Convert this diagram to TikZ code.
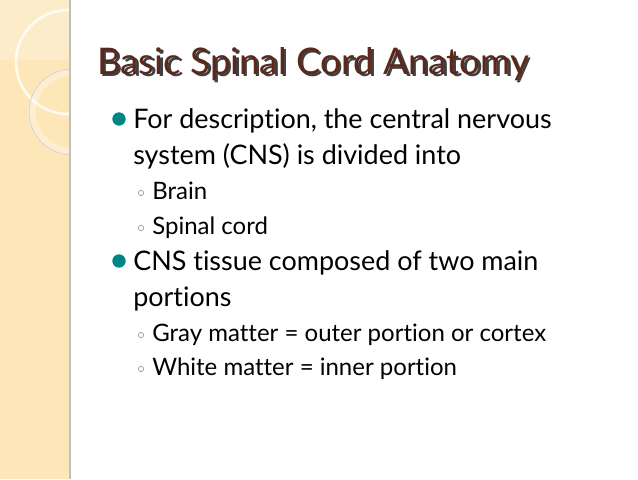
\documentclass[tikz,border=0pt]{standalone}
\usepackage{fontspec}
\setmainfont{Lato}[Ligatures={NoCommon,NoRare,NoDiscretionary}]
\definecolor{titlebrown}{RGB}{92,40,28}
\begin{document}
\begin{tikzpicture}[x=0.75pt,y=-0.75pt,
  body/.style={anchor=base west,inner sep=0pt,font=\fontsize{20.2}{20}\selectfont},
  sub/.style={anchor=base west,inner sep=0pt,font=\fontsize{18}{18}\selectfont},
  dot/.style={circle,fill=teal!70!cyan!80!black,inner sep=0pt,minimum size=10pt},
  ring/.style={circle,draw=gray!70,inner sep=0pt,minimum size=4pt,line width=0.6pt}]
\useasboundingbox (0,0) rectangle (638,479);
\fill[white] (0,0) rectangle (638,479);
\fill[yellow!30!orange!25!white] (0,0) rectangle (70,479);
\begin{scope}
\clip (0,0) rectangle (70,479);
\fill[white,opacity=0.25] (0,0) rectangle (70,60);
\draw[white,line width=2pt,opacity=0.8] (68,62) circle (52);
\draw[white,line width=6pt,opacity=0.35] (72,112) circle (40);
\draw[gray!40,line width=0.5pt] (72,112) circle (43);
\end{scope}
\draw[gray!50,line width=0.8pt] (70,0) -- (70,479);
\node[anchor=base west,inner sep=0pt,text=black!75,font=\fontsize{27.5}{27.5}\selectfont] (ts) at (99.5,76.5) {Basic Spinal Cord Anatomy};
\node[anchor=base west,inner sep=0pt,text=titlebrown,font=\fontsize{27.5}{27.5}\selectfont] (t) at (97,74) {Basic Spinal Cord Anatomy};
\node[dot] (b1) at (119,119) {};
\node[body] (l1) at (133,128) {For description, the central nervous};
\node[body] (l2) at (133,164) {system (CNS) is divided into};
\node[ring] (s1) at (141,193) {};
\node[sub] (l3) at (152,199) {Brain};
\node[ring] (s2) at (141,228) {};
\node[sub] (l4) at (152,234) {Spinal cord};
\node[dot] (b2) at (119,261) {};
\node[body] (l5) at (133,270) {CNS tissue composed of two main};
\node[body] (l6) at (133,306) {portions};
\node[ring] (s3) at (141,335) {};
\node[sub] (l7) at (152,341) {Gray matter = outer portion or cortex};
\node[ring] (s4) at (141,369) {};
\node[sub] (l8) at (152,375) {White matter = inner portion};
\end{tikzpicture}
\end{document}
